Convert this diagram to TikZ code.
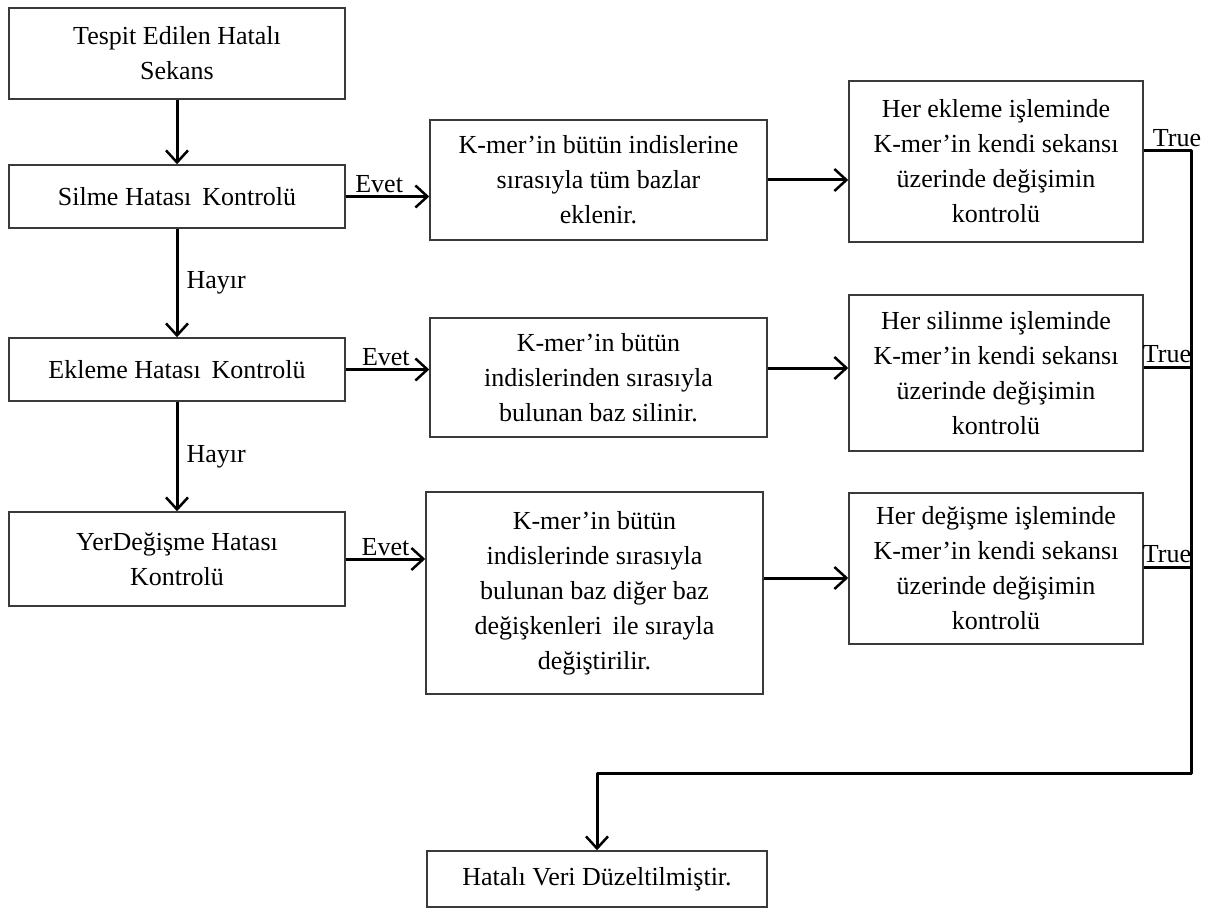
\documentclass[tikz,border=0pt]{standalone}
\usepackage{fontspec}
\setmainfont{Liberation Serif}
\usetikzlibrary{arrows.meta}
\definecolor{boxgray}{HTML}{3A3A3A}
\begin{document}
\begin{tikzpicture}[x=1pt,y=-1pt,
  box/.style={draw=boxgray, line width=1.5pt, align=center, inner sep=0pt,
              font=\fontsize{26}{35}\selectfont},
  arr/.style={line width=3pt, line join=round,
              -{Straight Barb[length=12pt,width=22pt,line width=2.5pt]}},
  wire/.style={line width=3pt, line join=round},
  lbl/.style={font=\fontsize{26}{30}\selectfont, inner sep=2pt}]
\useasboundingbox (0,0) rectangle (1213,909);

% left column: checks
\node[box, minimum width=336pt, minimum height=91pt] (start) at (177,53.5) {Tespit Edilen Hatalı\\Sekans};
\node[box, minimum width=336pt, minimum height=63pt] (silme) at (177,196.5) {Silme Hatası\, Kontrolü};
\node[box, minimum width=336pt, minimum height=63pt] (ekleme) at (177,369.5) {Ekleme Hatası\, Kontrolü};
\node[box, minimum width=336pt, minimum height=94pt] (yer) at (177,559) {YerDeğişme Hatası\\Kontrolü};

% middle column: operations
\node[box, minimum width=337pt, minimum height=120pt] (opA) at (598.5,180) {K-mer’in bütün indislerine\\sırasıyla tüm bazlar\\eklenir.};
\node[box, minimum width=337pt, minimum height=119pt] (opB) at (598.5,377.5) {K-mer’in bütün\\indislerinden sırasıyla\\bulunan baz silinir.};
\node[box, minimum width=337pt, minimum height=202pt] (opC) at (594.5,593) {K-mer’in bütün\\indislerinde sırasıyla\\bulunan baz diğer baz\\değişkenleri\, ile sırayla\\değiştirilir.};

% right column: verification
\node[box, minimum width=294pt, minimum height=161pt] (chkA) at (996,161.5) {Her ekleme işleminde\\K-mer’in kendi sekansı\\üzerinde değişimin\\kontrolü};
\node[box, minimum width=294pt, minimum height=156pt] (chkB) at (996,373) {Her silinme işleminde\\K-mer’in kendi sekansı\\üzerinde değişimin\\kontrolü};
\node[box, minimum width=294pt, minimum height=151pt] (chkC) at (996,568.5) {Her değişme işleminde\\K-mer’in kendi sekansı\\üzerinde değişimin\\kontrolü};

% result
\node[box, minimum width=340pt, minimum height=56pt] (done) at (597,879) {Hatalı Veri Düzeltilmiştir.};

% vertical flow of checks
\draw[arr] (start) -- (silme);
\draw[arr] (silme) -- node[lbl, right, xshift=6pt] (hayir1) {Hayır} (ekleme);
\draw[arr] (ekleme) -- node[lbl, right, xshift=6pt] (hayir2) {Hayır} (yer);

% yes branches
\draw[arr] (silme.east) -- node[lbl, above, pos=0.4] (evet1) {Evet} (silme.east -| opA.west);
\draw[arr] (ekleme.east) -- node[lbl, above, pos=0.48] (evet2) {Evet} (ekleme.east -| opB.west);
\draw[arr] (yer.east) -- node[lbl, above, pos=0.5] (evet3) {Evet} (yer.east -| opC.west);

% operations to verification
\draw[arr] (opA.east) -- (opA.east -| chkA.west);
\draw[arr] ([yshift=9.5pt]opB.east) -- ([yshift=9.5pt]opB.east -| chkB.west);
\draw[arr] ([yshift=15pt]opC.east) -- ([yshift=15pt]opC.east -| chkC.west);

% collecting bus to the result
\coordinate (busBot) at (1191,773);
\draw[arr] ([yshift=10.5pt]chkA.east) -| (busBot) -| (done.north);
\draw[wire] ([yshift=6pt]chkB.east) -- ([yshift=6pt]chkB.east -| busBot);
\draw[wire] ([yshift=1.5pt]chkC.east) -- ([yshift=1.5pt]chkC.east -| busBot);

\node[lbl, anchor=south] (true1) at (1177,149) {True};
\node[lbl, anchor=south] (true2) at (1167,365) {True};
\node[lbl, anchor=south] (true3) at (1167,565) {True};
\end{tikzpicture}
\end{document}
